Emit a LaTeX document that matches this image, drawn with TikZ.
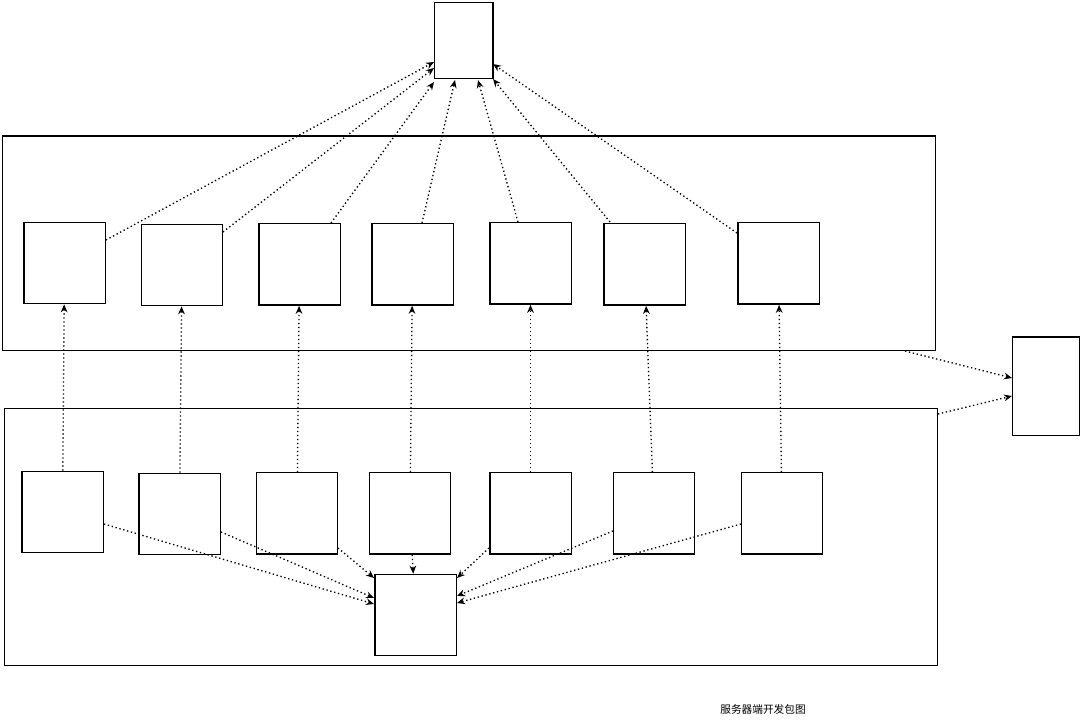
\documentclass[tikz,border=0pt]{standalone}
\usepackage{fontspec}
\newfontfamily\cjk{Noto Sans CJK SC}
\usetikzlibrary{arrows.meta}
\tikzset{
  pkg/.style={shape=rectangle, draw=black, line width=1pt, minimum width=61pt, minimum height=61pt, inner sep=0pt},
  dep/.style={draw, -{Stealth[length=6pt,width=5pt]}, dotted, line width=1pt}
}
\begin{document}
\begin{tikzpicture}[x=0.75pt, y=-0.75pt, every edge/.style={dep}]
        \useasboundingbox (0,0) rectangle (1083,727);
        % ------------------------------------------------------------------------
        % Containers
        \node[pkg, minimum width=700pt, minimum height=161pt] at (469,243.5) (upper) {};
        \node[pkg, minimum width=700pt, minimum height=193pt] at (471,537) (lower) {};
        \node[pkg, minimum width=44pt, minimum height=57pt] at (463.5,40.5) (core) {};
        \node[pkg, minimum width=50pt, minimum height=74pt] at (1046,386.5) (ext) {};
        \node[pkg] at (415.5,615) (hub) {};

        % ------------------------------------------------------------------------
        % Rows
        \node[pkg] at (64.5,263) (u1) {};
        \node[pkg] at (182,265) (u2) {};
        \node[pkg] at (299.5,264.5) (u3) {};
        \node[pkg] at (412.5,264.5) (u4) {};
        \node[pkg] at (530.5,263.5) (u5) {};
        \node[pkg] at (644.5,264.5) (u6) {};
        \node[pkg] at (778.5,263.5) (u7) {};

        \node[pkg] at (62.5,512) (l1) {};
        \node[pkg] at (179.5,514) (l2) {};
        \node[pkg] at (297,513.5) (l3) {};
        \node[pkg] at (410,513.5) (l4) {};
        \node[pkg] at (530.5,513.5) (l5) {};
        \node[pkg] at (654,513.5) (l6) {};
        \node[pkg] at (782,513.5) (l7) {};

        \path
          (106,240) edge (434,62)
          (223,232) edge (434,68)
          (331,223) edge (434,82)
          (422,223) edge (455,80)
          (518,222) edge (478,80)
          (610,222) edge (493,79)
          (737,233) edge (493,64)
        ;
        \path
          (l1) edge (u1) (l2) edge (u2) (l3) edge (u3) (l4) edge (u4)
          (l5) edge (u5) (l6) edge (u6) (l7) edge (u7)
        ;
        \path
          (104,524) edge (374,604)
          (221,532) edge (374,598)
          (338,548) edge (374,578)
          (l4) edge (hub)
          (489,548) edge (457,578)
          (613,531) edge (457,596)
          (741,524) edge (457,603)
          (905,351) edge (1012,378)
          (938,414) edge (1012,396)
        ;

        \node[font=\cjk\fontsize{8pt}{9pt}\selectfont] at (763,709) (caption) {服务器端开发包图};
\end{tikzpicture}
\end{document}
